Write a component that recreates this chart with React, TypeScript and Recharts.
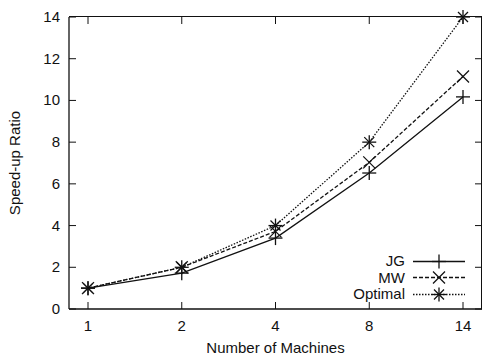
import { LineChart, Line, XAxis, YAxis, Legend } from "recharts";

const machines = ["1", "2", "4", "8", "14"];
const jg = [1, 1.72, 3.4, 6.52, 10.17];
const mw = [1, 2, 3.72, 7.03, 11.15];
const optimal = [1, 2, 4, 8, 14];
const yTicks = [0, 2, 4, 6, 8, 10, 12, 14];

const data = machines.map((m, i) => ({
  machines: m,
  jg: jg[i],
  mw: mw[i],
  optimal: optimal[i],
}));

const FONT = "'Liberation Sans', Arial, Helvetica, sans-serif";
const INK = "#111";
const PLOT_LEFT = 69;
const PLOT_TOP = 17;
const PLOT_BOTTOM = 309;
const PLOT_RIGHT = 482;
const TICK = 7;

const plusMark = (cx: number, cy: number, s: number) => (
  <g stroke={INK} strokeWidth={1.3}>
    <line x1={cx - s} y1={cy} x2={cx + s} y2={cy} />
    <line x1={cx} y1={cy - s} x2={cx} y2={cy + s} />
  </g>
);

const crossMark = (cx: number, cy: number, s: number) => (
  <g stroke={INK} strokeWidth={1.3}>
    <line x1={cx - s} y1={cy - s} x2={cx + s} y2={cy + s} />
    <line x1={cx - s} y1={cy + s} x2={cx + s} y2={cy - s} />
  </g>
);

const Plus = ({ cx, cy }: any) => plusMark(cx, cy, 7);
const Cross = ({ cx, cy }: any) => crossMark(cx, cy, 6);
const Star = ({ cx, cy }: any) => (
  <g>
    {plusMark(cx, cy, 7)}
    {crossMark(cx, cy, 5)}
  </g>
);

// ticks point inward, mirrored on the top edge
const XTick = ({ x, y, payload }: any) => (
  <g>
    <line x1={x} y1={y} x2={x} y2={y - TICK} stroke={INK} />
    <line x1={x} y1={PLOT_TOP} x2={x} y2={PLOT_TOP + TICK} stroke={INK} />
    <text x={x} y={y + 22} textAnchor="middle" fontSize={15} fontFamily={FONT} fill={INK}>
      {payload.value}
    </text>
  </g>
);

// same on the right edge
const YTick = ({ x, y, payload }: any) => {
  const axisX = x + 9;
  return (
    <g>
      <line x1={axisX} y1={y} x2={axisX + TICK} y2={y} stroke={INK} />
      <line x1={PLOT_RIGHT} y1={y} x2={PLOT_RIGHT - TICK} y2={y} stroke={INK} />
      <text x={x} y={y + 5} textAnchor="end" fontSize={15} fontFamily={FONT} fill={INK}>
        {payload.value}
      </text>
    </g>
  );
};

const XTitle = ({ viewBox }: any) => (
  <text x={viewBox.x + viewBox.width / 2} y={353} textAnchor="middle" fontSize={15} fontFamily={FONT} fill={INK}>
    Number of Machines
  </text>
);

const YTitle = ({ viewBox }: any) => {
  const cy = viewBox.y + viewBox.height / 2;
  return (
    <text x={20} y={cy} transform={`rotate(-90 20 ${cy})`} textAnchor="middle" fontSize={15} fontFamily={FONT} fill={INK}>
      Speed-up Ratio
    </text>
  );
};

const legendRows = [
  { name: "JG", dash: undefined, mark: Plus },
  { name: "MW", dash: "4 2", mark: Cross },
  { name: "Optimal", dash: "1.5 1.5", mark: Star },
];

const LegendBox = () => (
  <div style={{ fontFamily: FONT, fontSize: 15, color: INK, height: 0, overflow: "visible" }}>
    {legendRows.map((r) => (
      <div key={r.name} style={{ display: "flex", alignItems: "center", height: 16.5 }}>
        <div style={{ width: 75, textAlign: "right", lineHeight: "16px" }}>{r.name}</div>
        <svg width={60} height={17} style={{ marginLeft: 8, overflow: "visible" }}>
          <line x1={0} y1={8.5} x2={52} y2={8.5} stroke={INK} strokeWidth={1.3} strokeDasharray={r.dash} />
          {r.mark({ cx: 26, cy: 8.5 })}
        </svg>
      </div>
    ))}
  </div>
);

export default function App() {
  return (
    <div style={{ position: "absolute", left: 0, top: 0, width: 483, height: 356, background: "#fff" }}>
      <LineChart
        width={483}
        height={356}
        data={data}
        margin={{ top: PLOT_TOP, right: 1, left: 0, bottom: 0 }}
      >
        <XAxis
          dataKey="machines"
          height={47}
          padding={{ left: 19, right: 19 }}
          tickSize={0}
          tickMargin={0}
          tick={<XTick />}
          axisLine={{ stroke: INK, strokeWidth: 1.3 }}
          label={{ content: <XTitle /> }}
        />
        <YAxis
          width={69}
          domain={[0, 14]}
          ticks={yTicks}
          interval={0}
          tickSize={0}
          tickMargin={9}
          tick={<YTick />}
          axisLine={{ stroke: INK, strokeWidth: 1.3 }}
          label={{ content: <YTitle /> }}
        />
        <Legend
          content={<LegendBox />}
          wrapperStyle={{ position: "absolute", left: 330, top: 253, width: 150, height: 0 }}
        />
        <Line
          dataKey="jg"
          name="JG"
          type="linear"
          stroke={INK}
          strokeWidth={1.3}
          dot={<Plus />}
          activeDot={false}
          isAnimationActive={false}
        />
        <Line
          dataKey="mw"
          name="MW"
          type="linear"
          stroke={INK}
          strokeWidth={1.3}
          strokeDasharray="4 2"
          dot={<Cross />}
          activeDot={false}
          isAnimationActive={false}
        />
        <Line
          dataKey="optimal"
          name="Optimal"
          type="linear"
          stroke={INK}
          strokeWidth={1.3}
          strokeDasharray="1.5 1.5"
          dot={<Star />}
          activeDot={false}
          isAnimationActive={false}
        />
      </LineChart>
      {/* top and right edges of the gnuplot box */}
      <div
        style={{
          position: "absolute",
          left: PLOT_LEFT,
          top: PLOT_TOP - 1,
          width: PLOT_RIGHT - PLOT_LEFT,
          height: PLOT_BOTTOM - PLOT_TOP + 1,
          borderTop: `1px solid ${INK}`,
          borderRight: `1px solid ${INK}`,
          boxSizing: "border-box",
          pointerEvents: "none",
        }}
      />
    </div>
  );
}
